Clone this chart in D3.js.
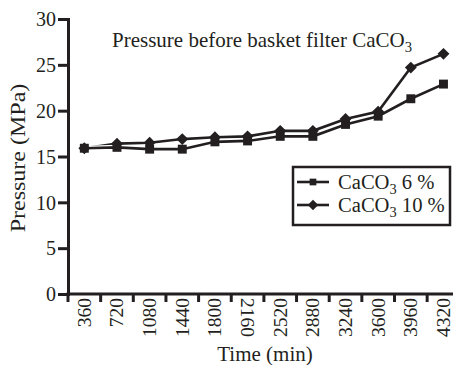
<!DOCTYPE html>
<html>
<head>
<meta charset="utf-8">
<script src="https://cdn.jsdelivr.net/npm/d3@7"></script>
<style>
  body { margin: 0; background: #fff; }
  text { font-family: "Liberation Serif", "Times New Roman", serif; fill: #231f20; }
</style>
</head>
<body>
<div id="chart"></div>
<script>
// data
const times = ["360", "720", "1080", "1440", "1800", "2160", "2520", "2880", "3240", "3600", "3960", "4320"];
const caco3_6 = [15.9, 16.0, 15.8, 15.8, 16.6, 16.7, 17.2, 17.2, 18.5, 19.4, 21.3, 22.9];
const caco3_10 = [15.9, 16.4, 16.5, 16.9, 17.1, 17.2, 17.8, 17.8, 19.1, 19.9, 24.7, 26.2];
const yTicks = [0, 5, 10, 15, 20, 25, 30];

const ink = "#231f20";
const svgWidth = 453, svgHeight = 365;
const margin = { top: 19, left: 68, bottom: 71 };

const svg = d3.select("#chart").append("svg")
  .attr("width", svgWidth)
  .attr("height", svgHeight);

const x = d3.scaleBand()
  .domain(times)
  .range([margin.left, margin.left + 12 * 32.65]);
const bw = x.bandwidth();

const y = d3.scaleLinear()
  .domain([0, 30])
  .range([svgHeight - margin.bottom, margin.top]);

// y axis
const yAxis = svg.append("g")
  .attr("transform", `translate(${margin.left},0)`)
  .call(d3.axisLeft(y).tickValues(yTicks).tickSize(10).tickPadding(2));
yAxis.select(".domain").attr("stroke", ink).attr("stroke-width", 3);
yAxis.selectAll(".tick line").attr("stroke", ink).attr("stroke-width", 3);
yAxis.selectAll(".tick text")
  .style("font-family", "Liberation Serif")
  .style("font-size", "20px")
  .attr("fill", ink)
  .attr("dy", "0.34em");

// x axis - ticks sit on band edges, labels in the middle
const xAxis = svg.append("g")
  .attr("transform", `translate(0,${y(0)})`)
  .call(d3.axisBottom(x).tickSize(8).tickSizeOuter(0));
xAxis.select(".domain").attr("d", `M${margin.left - 1.5},0H${svgWidth}`)
  .attr("stroke", ink).attr("stroke-width", 3);
xAxis.selectAll(".tick line")
  .attr("x1", -bw / 2).attr("x2", -bw / 2)
  .attr("stroke", ink).attr("stroke-width", 3);
xAxis.selectAll(".tick text")
  .style("font-family", "Liberation Serif")
  .style("font-size", "19.5px")
  .attr("fill", ink)
  .attr("dy", null)
  .attr("y", 0)
  .attr("transform", d => d === "2160" ? "translate(0,4) rotate(90)" : "translate(0,4) rotate(-90)")
  .attr("text-anchor", d => d === "2160" ? "start" : "end")
  .attr("dominant-baseline", "central");

// axis titles
svg.append("text")
  .attr("x", 265).attr("y", 361)
  .attr("text-anchor", "middle")
  .style("font-size", "21px")
  .text("Time (min)");

svg.append("text")
  .attr("transform", "translate(25,158) rotate(-90) scale(1.2,1)")
  .attr("text-anchor", "middle")
  .style("font-size", "20px")
  .text("Pressure (MPa)");

// chart title
const title = svg.append("text")
  .attr("transform", "translate(112,47) scale(1.05,1)")
  .style("font-size", "20px");
title.append("tspan").text("Pressure before basket filter CaCO");
title.append("tspan").attr("dy", 5).style("font-size", "14px").text("3");

// lines
const line = d3.line()
  .x((d, i) => x(times[i]) + bw / 2)
  .y(d => y(d));

const diamond = d3.symbol().type(d3.symbolDiamond2).size(90);
const square = d3.symbol().type(d3.symbolSquare).size(80);

[caco3_10, caco3_6].forEach(series => {
  svg.append("path").datum(series)
    .attr("d", line).attr("fill", "none")
    .attr("stroke", "#fff").attr("stroke-width", 5);
  svg.append("path").datum(series)
    .attr("d", line).attr("fill", "none")
    .attr("stroke", ink).attr("stroke-width", 2.6);
});

svg.selectAll(".sq").data(caco3_6).enter().append("path")
  .attr("class", "sq")
  .attr("transform", (d, i) => `translate(${x(times[i]) + bw / 2},${y(d)})`)
  .attr("d", square).attr("fill", ink);

svg.selectAll(".dm").data(caco3_10).enter().append("path")
  .attr("class", "dm")
  .attr("transform", (d, i) => `translate(${x(times[i]) + bw / 2},${y(d)})`)
  .attr("d", diamond).attr("fill", ink);

// legend
const legend = svg.append("g").attr("transform", "translate(293,167)");
legend.append("rect")
  .attr("width", 157).attr("height", 58)
  .attr("fill", "#fff").attr("stroke", ink).attr("stroke-width", 2.5);

const legendItems = [
  { label: "6 %", sym: d3.symbol().type(d3.symbolSquare).size(45) },
  { label: "10 %", sym: d3.symbol().type(d3.symbolDiamond2).size(70) }
];
legendItems.forEach((item, i) => {
  const gy = 15 + i * 23;
  legend.append("line")
    .attr("x1", 4).attr("x2", 36).attr("y1", gy).attr("y2", gy)
    .attr("stroke", ink).attr("stroke-width", 2.6);
  legend.append("path")
    .attr("transform", `translate(20,${gy})`)
    .attr("d", item.sym).attr("fill", ink);
  const t = legend.append("text")
    .attr("transform", `translate(45,${gy + 7}) scale(1.03,1)`)
    .style("font-size", "20px");
  t.append("tspan").text("CaCO");
  t.append("tspan").attr("dy", 5).style("font-size", "14px").text("3");
  t.append("tspan").attr("dy", -5).text(" " + item.label);
});
</script>
</body>
</html>
